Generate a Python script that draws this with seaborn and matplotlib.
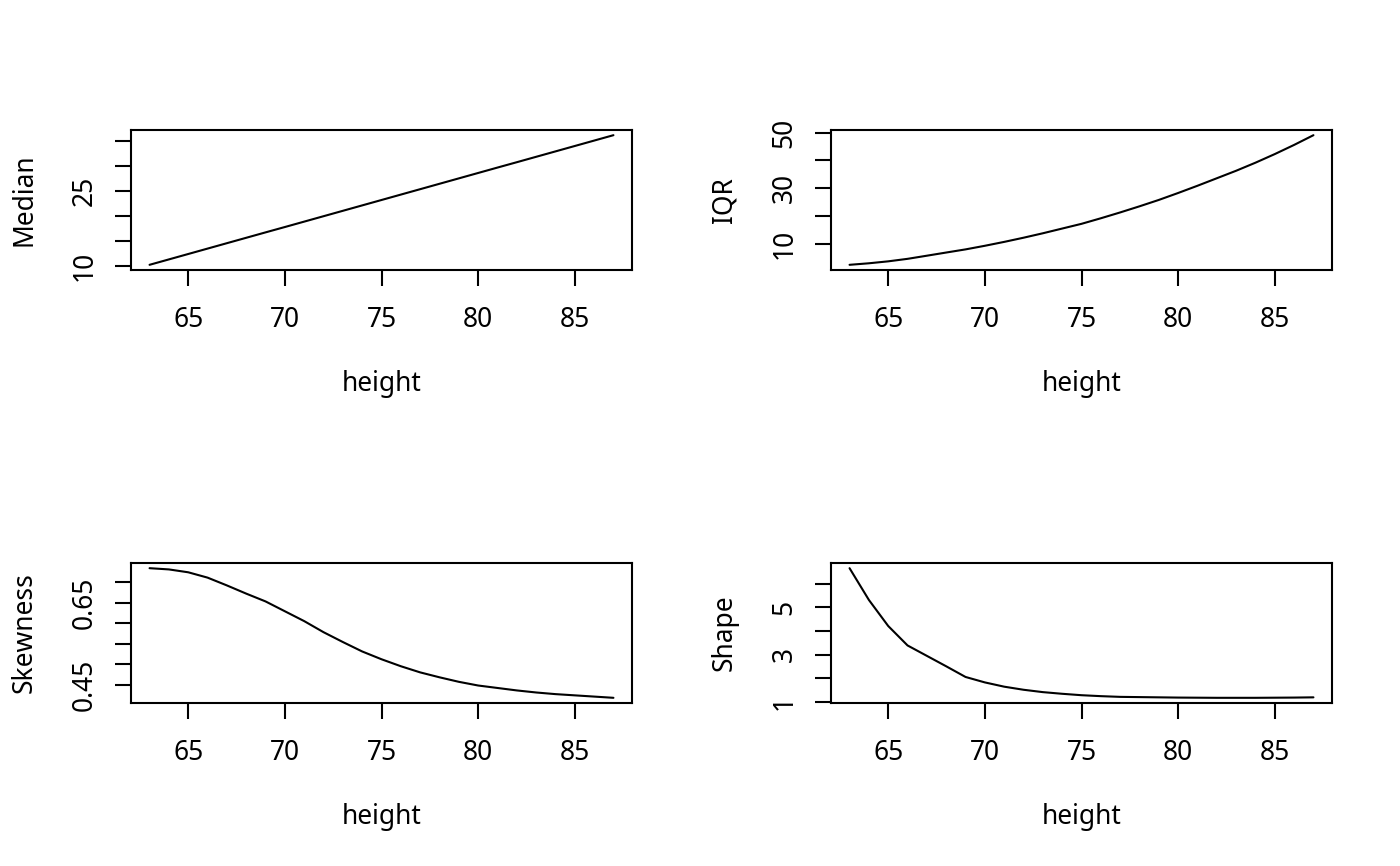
import numpy as np
import pandas as pd
import matplotlib
matplotlib.use("Agg")
import matplotlib.pyplot as plt
import seaborn as sns

height = [63, 64, 65, 66, 67, 68, 69, 70, 71, 72, 73, 74, 75,
          76, 77, 78, 79, 80, 81, 82, 83, 84, 85, 86, 87]
median = [10.20, 11.28, 12.36, 13.44, 14.52, 15.60, 16.68, 17.75, 18.83, 19.91, 20.99, 22.07, 23.15,
          24.23, 25.31, 26.39, 27.47, 28.55, 29.63, 30.70, 31.78, 32.86, 33.94, 35.02, 36.10]
iqr = [2.45, 3.0, 3.7, 4.6, 5.73, 6.87, 8.0, 9.3, 10.7, 12.2, 13.8, 15.5, 17.2,
       19.2, 21.3, 23.5, 25.8, 28.3, 30.9, 33.6, 36.3, 39.2, 42.3, 45.6, 49.1]
skewness = [0.734, 0.731, 0.724, 0.711, 0.692, 0.672, 0.653, 0.629, 0.605, 0.578, 0.554, 0.531, 0.512,
            0.495, 0.480, 0.468, 0.457, 0.448, 0.442, 0.436, 0.431, 0.427, 0.424, 0.421, 0.418]
shape = [6.65, 5.31, 4.21, 3.39, 2.95, 2.51, 2.06, 1.83, 1.65, 1.52, 1.42, 1.35, 1.29,
         1.25, 1.22, 1.21, 1.20, 1.19, 1.185, 1.18, 1.18, 1.18, 1.185, 1.19, 1.20]

x_ticks = [65, 70, 75, 80, 85]
panels = [
    ("Median", median, [10, 15, 20, 25, 30, 35], ["10", "", "", "25", "", ""]),
    ("IQR", iqr, [10, 20, 30, 40, 50], ["10", "", "30", "", "50"]),
    ("Skewness", skewness, [0.45, 0.50, 0.55, 0.60, 0.65, 0.70], ["0.45", "", "", "", "0.65", ""]),
    ("Shape", shape, [1, 2, 3, 4, 5, 6], ["1", "", "3", "", "5", ""]),
]

sns.set_theme(style="white")
plt.rcParams["font.family"] = ["Noto Sans", "DejaVu Sans"]

W, H = 1400, 866
fig = plt.figure(figsize=(W / 100, H / 100), dpi=100)
fig.patch.set_facecolor("white")

boxes = [(131, 130), (831, 130), (131, 563), (831, 563)]
bw, bh = 501, 140
fs = 19

for (name, vals, yt, ytl), (bx, by) in zip(panels, boxes):
    ax = fig.add_axes([bx / W, 1 - (by + bh) / H, bw / W, bh / H])
    df = pd.DataFrame({"height": height, name: vals})
    sns.lineplot(data=df, x="height", y=name, ax=ax, color="black", linewidth=1.5)
    lo, hi = min(vals), max(vals)
    pad = 0.04 * (hi - lo)
    ax.set_ylim(lo - pad, hi + pad)
    ax.set_xlim(63 - 0.96, 87 + 0.96)
    ax.set_facecolor("white")
    for s in ax.spines.values():
        s.set_visible(True)
        s.set_color("black")
        s.set_linewidth(1.5)
    ax.set_xticks(x_ticks)
    ax.set_xticklabels([str(t) for t in x_ticks])
    ax.set_yticks(yt)
    ax.set_yticklabels(ytl, rotation=90, va="center")
    ax.tick_params(axis="both", which="major", direction="out", length=11.5, width=1.5,
                   color="black", labelsize=fs, labelcolor="black",
                   bottom=True, left=True)
    ax.tick_params(axis="x", pad=14.5)
    ax.tick_params(axis="y", pad=12)
    ax.set_xlabel("height", fontsize=fs, color="black", labelpad=26)
    ax.set_ylabel(name, fontsize=fs, color="black", labelpad=23)
    ax.grid(False)

fig.savefig("out.png", dpi=100, facecolor="white")
